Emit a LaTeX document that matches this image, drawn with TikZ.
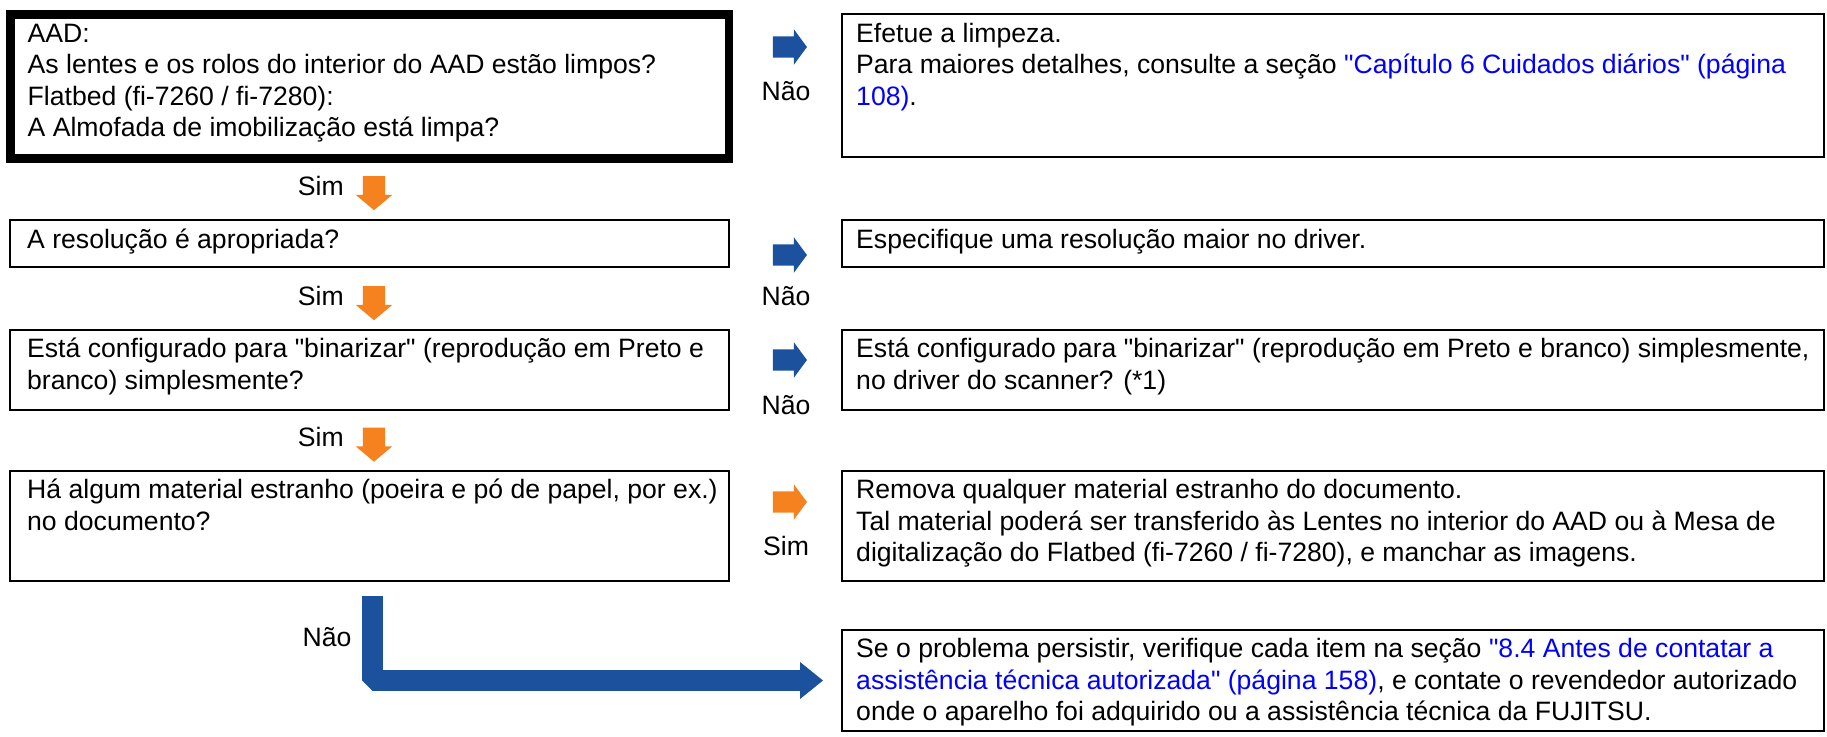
\documentclass[tikz,border=0pt]{standalone}
\usepackage{fontspec}
\setmainfont{Liberation Sans}
\usepackage{tikz}
\usetikzlibrary{arrows.meta,positioning,shapes.arrows}
\definecolor{flowblue}{HTML}{1C519D}
\definecolor{floworange}{HTML}{F5821F}
\definecolor{linkblue}{HTML}{0000FF}
\newcommand{\lnk}[1]{\textcolor{linkblue}{#1}}
\newcommand{\dq}{\textquotedbl}
\newcommand{\fs}{\fontsize{26.6}{31.5}\selectfont}
\newcommand{\lines}[1]{\begin{tabular}[t]{@{}l@{}}#1\end{tabular}}
\tikzset{
  qbox/.style={rectangle, draw=black, line width=2.6pt, inner sep=0pt, outer sep=0pt, anchor=north west},
  qboxthick/.style={qbox, line width=8.5pt},
  txt/.style={anchor=base west, inner sep=0pt, font=\fs},
  lbl/.style={anchor=base, inner sep=0pt, font=\fs},
  rarr/.style={single arrow, draw=none, inner sep=0pt, text height=21pt, text depth=0pt, minimum height=34pt,
               single arrow head extend=7pt, single arrow tip angle=107},
  darr/.style={rarr, fill=floworange, rotate=-90, text height=22pt, single arrow tip angle=100},
  bigflow/.style={draw=flowblue, line width=21pt, line join=bevel,
                  -{Triangle[length=23pt, width=37pt, line width=0pt]}}
}
\begin{document}
\begin{tikzpicture}[x=1pt, y=-1pt]
 \useasboundingbox (0,0) rectangle (1827,736);
 % questions
 \node[qboxthick, minimum width=718.5pt, minimum height=144pt] (q1) at (10.5,14.5) {};
 \node[qbox, minimum width=719pt, minimum height=47pt] (q2) at (10,220) {};
 \node[qbox, minimum width=719pt, minimum height=80pt] (q3) at (10,330) {};
 \node[qbox, minimum width=719pt, minimum height=110pt] (q4) at (10,471) {};
 \node[txt] at ([shift={(17,27.5)}]q1.north west) {\lines{AAD:\\As lentes e os rolos do interior do AAD estão limpos?\\Flatbed (fi-7260 / fi-7280):\\A Almofada de imobilização está limpa?}};
 \node[txt] at ([shift={(17,28)}]q2.north west) {A resolução é apropriada?};
 \node[txt] at ([shift={(17,27.5)}]q3.north west) {\lines{Está configurado para \dq binarizar\dq{} (reprodução em Preto e\\branco) simplesmente?}};
 \node[txt] at ([shift={(17,27.5)}]q4.north west) {\lines{Há algum material estranho (poeira e pó de papel, por ex.)\\no documento?}};
 % answers
 \node[qbox, minimum width=982pt, minimum height=143pt] (a1) at (842,14) {};
 \node[qbox, minimum width=982pt, minimum height=47pt] (a2) at (842,220) {};
 \node[qbox, minimum width=982pt, minimum height=80pt] (a3) at (842,330) {};
 \node[qbox, minimum width=982pt, minimum height=110pt] (a4) at (842,471) {};
 \node[qbox, minimum width=982pt, minimum height=101pt] (a5) at (842,630) {};
 \node[txt] at ([shift={(14,28)}]a1.north west) {\lines{Efetue a limpeza.\\Para maiores detalhes, consulte a seção \lnk{\dq Capítulo 6 Cuidados diários\dq{} (página}\\\lnk{108)}.}};
 \node[txt] at ([shift={(14,28)}]a2.north west) {Especifique uma resolução maior no driver.};
 \node[txt] at ([shift={(14,27.5)}]a3.north west) {\lines{Está configurado para \dq binarizar\dq{} (reprodução em Preto e branco) simplesmente,\\no driver do scanner? (*1)}};
 \node[txt] at ([shift={(14,27.5)}]a4.north west) {\lines{Remova qualquer material estranho do documento.\\Tal material poderá ser transferido às Lentes no interior do AAD ou à Mesa de\\digitalização do Flatbed (fi-7260 / fi-7280), e manchar as imagens.}};
 \node[txt] at ([shift={(14,27.5)}]a5.north west) {\lines{Se o problema persistir, verifique cada item na seção \lnk{\dq 8.4 Antes de contatar a}\\\lnk{assistência técnica autorizada\dq{} (página 158)}, e contate o revendedor autorizado\\onde o aparelho foi adquirido ou a assistência técnica da FUJITSU.}};
 % sideways answers
 \node[rarr, fill=flowblue] (r1) at (786,47) {};
 \node[rarr, fill=flowblue] (r2) at (786,255) {};
 \node[rarr, fill=flowblue] (r3) at (786,360) {};
 \node[rarr, fill=floworange] (r4) at (786,502) {};
 \node[lbl] at (786,100) {Não};
 \node[lbl] at (786,305) {Não};
 \node[lbl] at (786,414) {Não};
 \node[lbl] at (786,555) {Sim};
 % downward answers
 \node[darr] (d1) at (374,188.5) {};
 \node[darr] (d2) at (374,298.5) {};
 \node[darr] (d3) at (374,440) {};
 \node[lbl, anchor=base east] at (344,195) {Sim};
 \node[lbl, anchor=base east] at (344,305) {Sim};
 \node[lbl, anchor=base east] at (344,446.5) {Sim};
 \draw[bigflow] ([shift={(3,15)}]q4.south) |- ([xshift=-19pt]a5.west);
 \node[lbl] at (327,646) {Não};
\end{tikzpicture}
\end{document}
